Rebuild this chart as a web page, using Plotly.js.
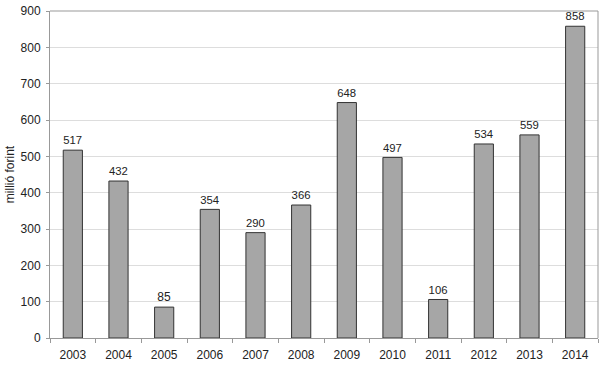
<!DOCTYPE html>
<html>
<head>
<meta charset="utf-8">
<script src="https://cdn.plot.ly/plotly-3.0.1.min.js"></script>
<style>html,body{margin:0;padding:0;background:#fff}#chart{width:600px;height:367px}</style>
</head>
<body>
<div id="chart"></div>
<script>
var years = ["2003","2004","2005","2006","2007","2008","2009","2010","2011","2012","2013","2014"];
var values = [517, 432, 85, 354, 290, 366, 648, 497, 106, 534, 559, 858];
var yTicks = [0,100,200,300,400,500,600,700,800,900];

var trace = {
  type: 'bar',
  x: years,
  y: values,
  text: values.map(String),
  textposition: 'outside',
  cliponaxis: false,
  textfont: {family: 'Liberation Sans, Arial, sans-serif', size: 12, color: '#222'},
  marker: {color: '#a6a6a6', line: {color: '#333333', width: 1}},
  width: 0.42,
  hoverinfo: 'none'
};

var layout = {
  width: 600, height: 367,
  margin: {l: 50, r: 2, t: 11, b: 29},
  paper_bgcolor: '#fff', plot_bgcolor: '#fff',
  showlegend: false,
  font: {family: 'Liberation Sans, Arial, sans-serif', size: 12, color: '#222'},
  xaxis: {
    type: 'category',
    ticks: 'outside', tickson: 'boundaries', ticklen: 4, tickcolor: '#999',
    showline: true, linecolor: '#999', linewidth: 1,
    showgrid: false, mirror: false,
    ticklabelstandoff: 6,
    tickfont: {size: 12, color: '#222'}
  },
  yaxis: {
    range: [0, 900],
    tickvals: yTicks,
    ticks: 'outside', ticklen: 3, tickcolor: '#999',
    showline: true, linecolor: '#999', linewidth: 1,
    showgrid: true, gridcolor: '#dddddd', gridwidth: 1,
    zeroline: false,
    ticklabelstandoff: 3,
    tickfont: {size: 12, color: '#222'},
    title: {text: 'millió forint', font: {size: 12, color: '#222'}, standoff: 3}
  },
  shapes: [
    {type: 'line', xref: 'paper', yref: 'paper', x0: 0, x1: 1, y0: 1, y1: 1, line: {color: '#999', width: 1}},
    {type: 'line', xref: 'paper', yref: 'paper', x0: 1, x1: 1, y0: 0, y1: 1, line: {color: '#999', width: 1}}
  ]
};

Plotly.newPlot('chart', [trace], layout, {displayModeBar: false, staticPlot: true});
</script>
</body>
</html>
